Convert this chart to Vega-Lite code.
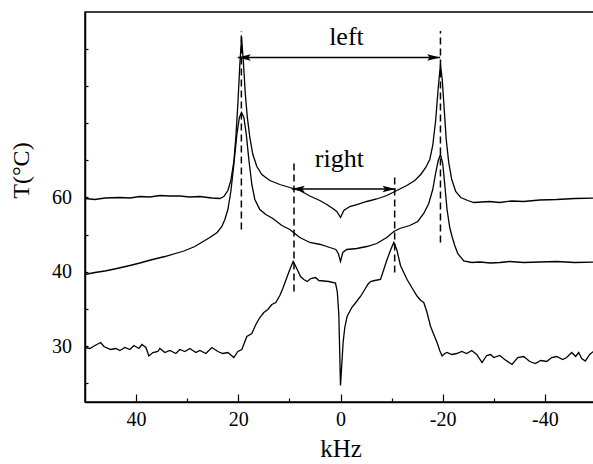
{
  "$schema": "https://vega.github.io/schema/vega-lite/v6.json",
  "autosize": "none",
  "width": 511,
  "height": 390,
  "padding": {"left": 85, "top": 12, "right": 0, "bottom": 62},
  "background": "white",
  "config": {
    "view": {"stroke": "black", "strokeWidth": 1.5},
    "font": "Liberation Serif",
    "axis": {"titleColor": "black", "labelColor": "black", "labelFont": "Liberation Serif", "titleFont": "Liberation Serif"},
    "text": {"font": "Liberation Serif"}
  },
  "datasets": {
    "spectra": [
      {"s":"60","x":50.0,"y":203.5},{"s":"60","x":48.06,"y":202.5},{"s":"60","x":46.1,"y":204},{"s":"60","x":43.17,"y":204.5},{"s":"60","x":41.2,"y":204},{"s":"60","x":39.26,"y":205.5},{"s":"60","x":37.3,"y":205},{"s":"60","x":35.35,"y":206.5},{"s":"60","x":33.4,"y":206},{"s":"60","x":31.43,"y":206},{"s":"60","x":29.5,"y":205},{"s":"60","x":27.52,"y":205.5},{"s":"60","x":25.17,"y":204},{"s":"60","x":23.61,"y":203.5},{"s":"60","x":22.83,"y":205.5},{"s":"60","x":22.04,"y":211.5},{"s":"60","x":21.46,"y":221.5},{"s":"60","x":20.87,"y":240.5},{"s":"60","x":20.48,"y":264.5},{"s":"60","x":20.09,"y":297.5},{"s":"60","x":19.7,"y":337.5},{"s":"60","x":19.36,"y":364.5},{"s":"60","x":19.01,"y":340.5},{"s":"60","x":18.62,"y":307.5},{"s":"60","x":18.23,"y":284.5},{"s":"60","x":17.74,"y":264.5},{"s":"60","x":17.15,"y":247.5},{"s":"60","x":16.37,"y":235.5},{"s":"60","x":15.39,"y":227.5},{"s":"60","x":13.83,"y":221.5},{"s":"60","x":11.87,"y":217.5},{"s":"60","x":9.92,"y":214.5},{"s":"60","x":7.96,"y":211.5},{"s":"60","x":6.0,"y":206},{"s":"60","x":4.05,"y":201.5},{"s":"60","x":2.68,"y":197.5},{"s":"60","x":1.51,"y":193.5},{"s":"60","x":0.72,"y":190.5},{"s":"60","x":0,"y":184.5},{"s":"60","x":-0.65,"y":191.5},{"s":"60","x":-1.82,"y":195.5},{"s":"60","x":-3.19,"y":197.5},{"s":"60","x":-5.14,"y":200.5},{"s":"60","x":-7.1,"y":203},{"s":"60","x":-9.06,"y":206.5},{"s":"60","x":-11.01,"y":211.5},{"s":"60","x":-12.97,"y":216.5},{"s":"60","x":-14.53,"y":221.5},{"s":"60","x":-15.71,"y":227.5},{"s":"60","x":-16.68,"y":234.5},{"s":"60","x":-17.47,"y":242.5},{"s":"60","x":-18.05,"y":256.5},{"s":"60","x":-18.64,"y":282.5},{"s":"60","x":-19.13,"y":314.5},{"s":"60","x":-19.56,"y":337.5},{"s":"60","x":-19.91,"y":322.5},{"s":"60","x":-20.3,"y":292.5},{"s":"60","x":-20.69,"y":262.5},{"s":"60","x":-21.18,"y":239.5},{"s":"60","x":-21.77,"y":222.5},{"s":"60","x":-22.55,"y":210.5},{"s":"60","x":-23.53,"y":204.5},{"s":"60","x":-24.9,"y":201.5},{"s":"60","x":-26.07,"y":199.5},{"s":"60","x":-27.64,"y":200},{"s":"60","x":-29.2,"y":200.5},{"s":"60","x":-31.16,"y":199.5},{"s":"60","x":-33.51,"y":201},{"s":"60","x":-35.85,"y":200.5},{"s":"60","x":-38.98,"y":202},{"s":"60","x":-42.31,"y":202.5},{"s":"60","x":-45.83,"y":203.5},{"s":"60","x":-49.94,"y":204},
      {"s":"40","x":50.0,"y":127.5},{"s":"40","x":48.06,"y":129.5},{"s":"40","x":46.1,"y":131},{"s":"40","x":43.76,"y":133.5},{"s":"40","x":41.21,"y":136.5},{"s":"40","x":39.26,"y":139},{"s":"40","x":37.16,"y":142},{"s":"40","x":34.37,"y":145.5},{"s":"40","x":30.65,"y":151},{"s":"40","x":28.5,"y":155.5},{"s":"40","x":27.38,"y":159},{"s":"40","x":25.57,"y":164.5},{"s":"40","x":24.14,"y":169.5},{"s":"40","x":23.22,"y":175.5},{"s":"40","x":22.63,"y":182.5},{"s":"40","x":22.04,"y":192.5},{"s":"40","x":21.46,"y":210.5},{"s":"40","x":20.87,"y":237.5},{"s":"40","x":20.28,"y":267.5},{"s":"40","x":19.79,"y":284.5},{"s":"40","x":19.36,"y":289.5},{"s":"40","x":18.91,"y":284.5},{"s":"40","x":18.43,"y":267.5},{"s":"40","x":17.94,"y":242.5},{"s":"40","x":17.35,"y":217.5},{"s":"40","x":16.76,"y":202.5},{"s":"40","x":15.79,"y":192.5},{"s":"40","x":14.61,"y":187.5},{"s":"40","x":13.24,"y":183.5},{"s":"40","x":11.48,"y":176.5},{"s":"40","x":9.92,"y":172.5},{"s":"40","x":7.96,"y":164.5},{"s":"40","x":6.0,"y":159.5},{"s":"40","x":3.91,"y":157.5},{"s":"40","x":2.09,"y":154.5},{"s":"40","x":0.92,"y":152.5},{"s":"40","x":0.43,"y":148.5},{"s":"40","x":0,"y":140.5},{"s":"40","x":-0.45,"y":149.5},{"s":"40","x":-1.23,"y":152.5},{"s":"40","x":-3.19,"y":153.5},{"s":"40","x":-5.14,"y":155.5},{"s":"40","x":-7.1,"y":158.5},{"s":"40","x":-9.06,"y":164.5},{"s":"40","x":-10.43,"y":170.5},{"s":"40","x":-11.6,"y":173.5},{"s":"40","x":-13.56,"y":176.5},{"s":"40","x":-15.12,"y":180.5},{"s":"40","x":-16.29,"y":188.5},{"s":"40","x":-17.27,"y":198.5},{"s":"40","x":-18.05,"y":212.5},{"s":"40","x":-18.64,"y":229.5},{"s":"40","x":-19.13,"y":241.5},{"s":"40","x":-19.56,"y":247.5},{"s":"40","x":-20.01,"y":238.5},{"s":"40","x":-20.4,"y":217.5},{"s":"40","x":-20.85,"y":192.5},{"s":"40","x":-21.38,"y":174.5},{"s":"40","x":-21.83,"y":165.5},{"s":"40","x":-22.36,"y":156.5},{"s":"40","x":-22.94,"y":148.5},{"s":"40","x":-24.12,"y":141},{"s":"40","x":-25.68,"y":139.5},{"s":"40","x":-27.25,"y":140},{"s":"40","x":-29.34,"y":139},{"s":"40","x":-31.16,"y":139.5},{"s":"40","x":-33.11,"y":140.5},{"s":"40","x":-35.85,"y":139.5},{"s":"40","x":-38.98,"y":140},{"s":"40","x":-42.31,"y":140.5},{"s":"40","x":-45.83,"y":139.5},{"s":"40","x":-49.94,"y":140},
      {"s":"30","x":50.0,"y":54.5},{"s":"30","x":49.04,"y":53.5},{"s":"30","x":48.06,"y":56.5},{"s":"30","x":46.94,"y":59.5},{"s":"30","x":46.3,"y":55.5},{"s":"30","x":44.99,"y":52.5},{"s":"30","x":43.95,"y":53.5},{"s":"30","x":43.17,"y":51.5},{"s":"30","x":42.19,"y":54.5},{"s":"30","x":41.21,"y":52.5},{"s":"30","x":40.43,"y":56.5},{"s":"30","x":39.45,"y":53.5},{"s":"30","x":38.87,"y":57.5},{"s":"30","x":38.08,"y":54.5},{"s":"30","x":37.5,"y":46},{"s":"30","x":36.71,"y":49.5},{"s":"30","x":35.74,"y":50.5},{"s":"30","x":35.35,"y":53.5},{"s":"30","x":34.37,"y":49.5},{"s":"30","x":33.39,"y":51.5},{"s":"30","x":32.22,"y":48.5},{"s":"30","x":31.43,"y":52.5},{"s":"30","x":30.46,"y":50.5},{"s":"30","x":29.48,"y":53.5},{"s":"30","x":28.3,"y":49.5},{"s":"30","x":27.52,"y":51.5},{"s":"30","x":26.35,"y":48.5},{"s":"30","x":25.17,"y":54.5},{"s":"30","x":24.0,"y":50.5},{"s":"30","x":23.02,"y":48.5},{"s":"30","x":22.04,"y":49.5},{"s":"30","x":20.87,"y":44.5},{"s":"30","x":20.09,"y":50.5},{"s":"30","x":19.31,"y":52.5},{"s":"30","x":18.33,"y":65.5},{"s":"30","x":17.35,"y":68.5},{"s":"30","x":16.57,"y":77.5},{"s":"30","x":15.79,"y":84.5},{"s":"30","x":15.0,"y":89.5},{"s":"30","x":14.22,"y":92.5},{"s":"30","x":13.44,"y":97.5},{"s":"30","x":12.66,"y":99.5},{"s":"30","x":11.87,"y":106.5},{"s":"30","x":11.29,"y":113.5},{"s":"30","x":10.5,"y":124.5},{"s":"30","x":9.92,"y":132.5},{"s":"30","x":9.27,"y":140.5},{"s":"30","x":8.74,"y":135.5},{"s":"30","x":7.82,"y":125.5},{"s":"30","x":7.18,"y":122.5},{"s":"30","x":6.53,"y":120.5},{"s":"30","x":5.81,"y":123.5},{"s":"30","x":4.89,"y":124.5},{"s":"30","x":4.24,"y":121.5},{"s":"30","x":3.27,"y":121},{"s":"30","x":2.29,"y":120.5},{"s":"30","x":0.98,"y":119},{"s":"30","x":0.63,"y":110.5},{"s":"30","x":0.33,"y":87.5},{"s":"30","x":0,"y":16.5},{"s":"30","x":-0.25,"y":37.5},{"s":"30","x":-0.51,"y":59.5},{"s":"30","x":-0.84,"y":74.5},{"s":"30","x":-1.29,"y":85.5},{"s":"30","x":-2.21,"y":94.5},{"s":"30","x":-2.99,"y":99.5},{"s":"30","x":-3.91,"y":105.5},{"s":"30","x":-4.75,"y":112.5},{"s":"30","x":-5.34,"y":117.5},{"s":"30","x":-5.87,"y":120.5},{"s":"30","x":-6.71,"y":121.5},{"s":"30","x":-7.82,"y":122.5},{"s":"30","x":-8.47,"y":132.5},{"s":"30","x":-9.11,"y":142.5},{"s":"30","x":-9.84,"y":152.5},{"s":"30","x":-10.43,"y":159.5},{"s":"30","x":-11.01,"y":152.5},{"s":"30","x":-11.74,"y":136.5},{"s":"30","x":-12.38,"y":129.5},{"s":"30","x":-13.03,"y":122.5},{"s":"30","x":-13.95,"y":114.5},{"s":"30","x":-14.98,"y":106},{"s":"30","x":-15.71,"y":101.5},{"s":"30","x":-16.29,"y":99.5},{"s":"30","x":-16.88,"y":90.5},{"s":"30","x":-17.6,"y":76},{"s":"30","x":-18.25,"y":67.5},{"s":"30","x":-18.9,"y":59.5},{"s":"30","x":-19.42,"y":51.5},{"s":"30","x":-19.87,"y":46},{"s":"30","x":-20.4,"y":48.5},{"s":"30","x":-20.85,"y":49.5},{"s":"30","x":-21.77,"y":47.5},{"s":"30","x":-22.75,"y":48.5},{"s":"30","x":-23.73,"y":50.5},{"s":"30","x":-24.7,"y":48.5},{"s":"30","x":-25.68,"y":51.5},{"s":"30","x":-26.66,"y":47.5},{"s":"30","x":-27.7,"y":39.5},{"s":"30","x":-28.62,"y":46.5},{"s":"30","x":-29.4,"y":47.5},{"s":"30","x":-29.99,"y":44.5},{"s":"30","x":-31.16,"y":46.5},{"s":"30","x":-32.14,"y":42.5},{"s":"30","x":-33.57,"y":37.5},{"s":"30","x":-34.68,"y":44.5},{"s":"30","x":-35.85,"y":45.5},{"s":"30","x":-37.03,"y":40.5},{"s":"30","x":-38.14,"y":38.5},{"s":"30","x":-39.18,"y":41.5},{"s":"30","x":-40.35,"y":40.5},{"s":"30","x":-41.33,"y":44.5},{"s":"30","x":-42.31,"y":45.5},{"s":"30","x":-43.48,"y":42.5},{"s":"30","x":-44.26,"y":44.5},{"s":"30","x":-45.24,"y":49.5},{"s":"30","x":-46.02,"y":45.5},{"s":"30","x":-46.61,"y":49.5},{"s":"30","x":-47.2,"y":43.5},{"s":"30","x":-47.92,"y":41},{"s":"30","x":-48.76,"y":47.5},{"s":"30","x":-49.94,"y":52.5}
    ],
    "vlines": [
      {"x":19.4,"y":172.5,"y2":371},
      {"x":-19.56,"y":159.5,"y2":371},
      {"x":9.1,"y":110.5,"y2":239.5},
      {"x":-10.6,"y":129.5,"y2":224.5}
    ],
    "arrows": [
      {"name":"left","x":20.1,"x2":-19.5,"y":344.5},
      {"name":"right","x":9.53,"x2":-10.76,"y":213}
    ],
    "heads": [
      {"x":18.83,"y":344.5,"dir":"L"},
      {"x":-18.23,"y":344.5,"dir":"R"},
      {"x":8.26,"y":213,"dir":"L"},
      {"x":-9.49,"y":213,"dir":"R"}
    ],
    "labels": [
      {"text":"left","x":-1.17,"y":357.5},
      {"text":"right","x":0.23,"y":235}
    ]
  },
  "layer": [
    {
      "data": {"name": "spectra"},
      "mark": {"type": "line", "color": "black", "strokeWidth": 1.3, "clip": true},
      "encoding": {
        "x": {
          "field": "x", "type": "quantitative",
          "scale": {"domain": [50, -50], "nice": false, "zero": false},
          "axis": {
            "values": [40, 30, 20, 10, 0, -10, -20, -30, -40],
            "labelExpr": "datum.value % 20 == 0 ? '' + datum.value : ''",
            "tickSize": {"condition": {"test": "datum.value % 20 == 0", "value": -8}, "value": -4},
            "tickColor": "black", "tickWidth": 1.2,
            "labelPadding": 15.5, "labelFontSize": 20, "labelFont": "Liberation Serif", "labelColor": "black",
            "labelOverlap": false, "labelFlush": false,
            "domainColor": "black", "domainWidth": 1.5, "grid": false,
            "title": "kHz", "titleFontSize": 25, "titleFont": "Liberation Serif", "titleFontWeight": "normal", "titleColor": "black",
            "titleY": 34.5
          }
        },
        "y": {
          "field": "y", "type": "quantitative",
          "scale": {"domain": [0, 390], "nice": false, "zero": false},
          "axis": {
            "values": [18.6, 37.2, 55.8, 74.4, 93, 111.6, 130.2, 148.8, 167.4, 186, 204.6, 223.2, 241.8, 260.4, 279, 297.6, 316.2, 334.8, 353.4, 372],
            "labelExpr": "abs(datum.value - 55.8) < 1 ? '30' : abs(datum.value - 130.2) < 1 ? '40' : abs(datum.value - 204.6) < 1 ? '60' : ''",
            "tickSize": -3, "tickColor": "black", "tickWidth": 1.2,
            "labelPadding": 16.5, "labelFontSize": 20, "labelFont": "Liberation Serif", "labelColor": "black",
            "labelOverlap": false, "labelFlush": false,
            "domainColor": "black", "domainWidth": 1.5, "grid": false,
            "title": "T(°C)", "titleFontSize": 24, "titleFont": "Liberation Serif", "titleFontWeight": "normal", "titleColor": "black",
            "titleX": -51.5, "titleY": 158
          }
        },
        "detail": {"field": "s"}
      }
    },
    {
      "data": {"name": "vlines"},
      "mark": {"type": "rule", "color": "black", "strokeWidth": 1.5, "strokeDash": [7, 4]},
      "encoding": {
        "x": {"field": "x", "type": "quantitative"},
        "y": {"field": "y", "type": "quantitative"},
        "y2": {"field": "y2"}
      }
    },
    {
      "data": {"name": "arrows"},
      "mark": {"type": "rule", "color": "black", "strokeWidth": 1.5},
      "encoding": {
        "x": {"field": "x", "type": "quantitative"},
        "x2": {"field": "x2"},
        "y": {"field": "y", "type": "quantitative"}
      }
    },
    {
      "data": {"name": "heads"},
      "mark": {"type": "point", "filled": true, "color": "black", "opacity": 1, "size": 169, "strokeWidth": 0},
      "encoding": {
        "x": {"field": "x", "type": "quantitative"},
        "y": {"field": "y", "type": "quantitative"},
        "shape": {
          "field": "dir", "type": "nominal",
          "scale": {"domain": ["L", "R"], "range": ["M-1,0L1,-0.5L0.6,0L1,0.5Z", "M1,0L-1,-0.5L-0.6,0L-1,0.5Z"]},
          "legend": null
        }
      }
    },
    {
      "data": {"name": "labels"},
      "mark": {"type": "text", "font": "Liberation Serif", "fontSize": 26, "color": "black", "align": "center", "baseline": "alphabetic"},
      "encoding": {
        "x": {"field": "x", "type": "quantitative"},
        "y": {"field": "y", "type": "quantitative"},
        "text": {"field": "text"}
      }
    }
  ]
}
